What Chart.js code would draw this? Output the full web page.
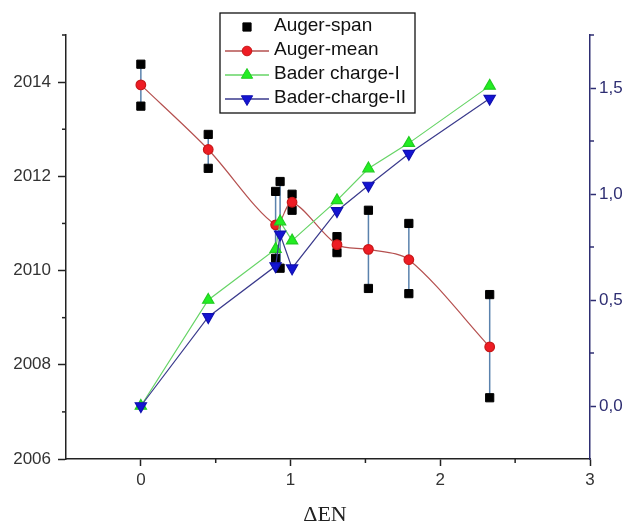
<!DOCTYPE html>
<html>
<head>
<meta charset="utf-8">
<script src="https://cdn.jsdelivr.net/npm/chart.js"></script>
<style>
  html, body { margin: 0; padding: 0; background: #fff; }
</style>
</head>
<body>
<canvas id="Chart" width="631" height="522"></canvas>
<script>
// Auger span: high / low ends of each bar (left axis)
const spanX = [0, 0.45, 0.9, 0.93, 1.01, 1.31, 1.52, 1.79, 2.33];
const spanHigh = [2014.38, 2012.89, 2011.68, 2011.89, 2011.62, 2010.72, 2011.28, 2011.0, 2009.49];
const spanLow = [2013.49, 2012.17, 2010.26, 2010.05, 2011.28, 2010.38, 2009.62, 2009.51, 2007.3];

// Auger mean (left axis)
const meanX = [0, 0.45, 0.9, 1.01, 1.31, 1.52, 1.79, 2.33];
const meanY = [2013.94, 2012.57, 2010.97, 2011.45, 2010.55, 2010.45, 2010.23, 2008.38];

// Bader charges (right axis)
const baderX = [0, 0.45, 0.9, 0.93, 1.01, 1.31, 1.52, 1.79, 2.33];
const bader1 = [0, 0.5, 0.74, 0.87, 0.78, 0.97, 1.12, 1.24, 1.51];
const bader2 = [0, 0.42, 0.66, 0.81, 0.65, 0.92, 1.04, 1.19, 1.45];

// ticks
const xTicks = [0, 1, 2, 3];
const xMinor = [0.5, 1.5, 2.5];
const yTicks = [2006, 2008, 2010, 2012, 2014];
const yMinor = [2007, 2009, 2011, 2013, 2015];
const y2Ticks = [0, 0.5, 1, 1.5];
const y2Minor = [0.25, 0.75, 1.25, 1.75];

const FONT = "'Liberation Sans', Arial, sans-serif";
const NAVY = "#2e2e72";

function pts(xs, ys) {
  return xs.map((x, i) => ({ x: x, y: ys[i] }));
}

const spanPoints = spanX.flatMap((x, i) => [
  { x: x, y: spanHigh[i] },
  { x: x, y: spanLow[i] },
]);

function marker(ctx, style, x, y, r, fill, stroke) {
  ctx.save();
  ctx.fillStyle = fill;
  ctx.strokeStyle = stroke;
  ctx.lineWidth = 1;
  ctx.beginPath();
  if (style === "rect") {
    const s = r * Math.SQRT1_2;
    ctx.rect(x - s, y - s, 2 * s, 2 * s);
  } else if (style === "circle") {
    ctx.arc(x, y, r, 0, Math.PI * 2);
  } else {
    const dir = style === "down" ? -1 : 1;
    ctx.moveTo(x, y - dir * r);
    ctx.lineTo(x + r * 0.866, y + dir * r * 0.5);
    ctx.lineTo(x - r * 0.866, y + dir * r * 0.5);
    ctx.closePath();
  }
  ctx.fill();
  ctx.stroke();
  ctx.restore();
}

const extras = {
  id: "extras",
  beforeDatasetsDraw(chart) {
    const { ctx, scales } = chart;
    ctx.save();
    ctx.strokeStyle = "#5a82ad";
    ctx.lineWidth = 1.5;
    spanX.forEach((v, i) => {
      const px = scales.x.getPixelForValue(v);
      ctx.beginPath();
      ctx.moveTo(px, scales.y.getPixelForValue(spanHigh[i]));
      ctx.lineTo(px, scales.y.getPixelForValue(spanLow[i]));
      ctx.stroke();
    });
    ctx.restore();
  },
  afterDraw(chart) {
    const { ctx, scales, chartArea } = chart;
    ctx.save();
    // minor ticks
    ctx.lineWidth = 1.5;
    ctx.strokeStyle = "#222";
    xMinor.forEach((v) => {
      const px = scales.x.getPixelForValue(v);
      ctx.beginPath();
      ctx.moveTo(px, chartArea.bottom);
      ctx.lineTo(px, chartArea.bottom + 4);
      ctx.stroke();
    });
    yMinor.forEach((v) => {
      const py = scales.y.getPixelForValue(v);
      ctx.beginPath();
      ctx.moveTo(chartArea.left, py);
      ctx.lineTo(chartArea.left - 4, py);
      ctx.stroke();
    });
    ctx.strokeStyle = NAVY;
    y2Minor.forEach((v) => {
      const py = scales.y2.getPixelForValue(v);
      ctx.beginPath();
      ctx.moveTo(chartArea.right, py);
      ctx.lineTo(chartArea.right + 4, py);
      ctx.stroke();
    });

    // x axis title
    ctx.fillStyle = "#222";
    ctx.font = "22px 'Liberation Serif', 'Times New Roman', serif";
    ctx.textAlign = "center";
    ctx.textBaseline = "alphabetic";
    ctx.fillText("\u0394EN", 325, 521);

    // legend box
    ctx.fillStyle = "#fff";
    ctx.fillRect(220, 13, 195, 100);
    ctx.strokeStyle = "#111";
    ctx.lineWidth = 1.3;
    ctx.strokeRect(220, 13, 195, 100);
    const rows = [27, 51, 75, 99];
    const styles = ["rect", "circle", "up", "down"];
    chart.data.datasets.forEach((ds, i) => {
      const yy = rows[i];
      if (ds.showLine) {
        ctx.strokeStyle = ds.borderColor;
        ctx.lineWidth = 1.3;
        ctx.beginPath();
        ctx.moveTo(225, yy);
        ctx.lineTo(269, yy);
        ctx.stroke();
      }
      marker(ctx, styles[i], 247, yy, ds.pointRadius, ds.pointBackgroundColor, ds.pointBorderColor);
      ctx.fillStyle = "#111";
      ctx.font = "19px " + FONT;
      ctx.textAlign = "left";
      ctx.textBaseline = "middle";
      ctx.fillText(ds.label, 274, yy - 1);
    });
    ctx.restore();
  },
};

new Chart(document.getElementById("Chart"), {
  type: "scatter",
  data: {
    datasets: [
      {
        label: "Auger-span",
        data: spanPoints,
        yAxisID: "y",
        showLine: false,
        pointStyle: "rect",
        pointRadius: 5.8,
        pointBackgroundColor: "#000",
        pointBorderColor: "#000",
        order: 4,
      },
      {
        label: "Auger-mean",
        data: pts(meanX, meanY),
        yAxisID: "y",
        showLine: true,
        tension: 0.3,
        borderColor: "#b5504f",
        borderWidth: 1.2,
        pointStyle: "circle",
        pointRadius: 4.8,
        pointBackgroundColor: "#ee1c24",
        pointBorderColor: "#c81818",
        order: 3,
      },
      {
        label: "Bader charge-I",
        data: pts(baderX, bader1),
        yAxisID: "y2",
        showLine: true,
        borderColor: "#66d466",
        borderWidth: 1.2,
        pointStyle: "triangle",
        pointRadius: 6.5,
        pointBackgroundColor: "#22ee22",
        pointBorderColor: "#22cc22",
        order: 2,
      },
      {
        label: "Bader-charge-II",
        data: pts(baderX, bader2),
        yAxisID: "y2",
        showLine: true,
        borderColor: "#3a3a8c",
        borderWidth: 1.2,
        pointStyle: "triangle",
        rotation: 180,
        pointRotation: 180,
        pointRadius: 6.5,
        pointBackgroundColor: "#1414d2",
        pointBorderColor: "#1010b0",
        order: 1,
      },
    ],
  },
  options: {
    responsive: false,
    animation: false,
    devicePixelRatio: 1,
    layout: { padding: { top: 35, left: 0, right: 0, bottom: 0 } },
    plugins: { legend: { display: false }, tooltip: { enabled: false } },
    scales: {
      x: {
        type: "linear",
        min: -0.5,
        max: 3,
        afterBuildTicks: (s) => { s.ticks = xTicks.map((v) => ({ value: v })); },
        afterFit: (s) => { s.height = 63; },
        ticks: { font: { size: 17, family: FONT }, color: "#333", padding: 4 },
        grid: { drawOnChartArea: false, tickLength: 7, tickColor: "#222", tickWidth: 1.5 },
        border: { color: "#222", width: 1.5 },
      },
      y: {
        type: "linear",
        position: "left",
        min: 2006,
        max: 2015,
        afterBuildTicks: (s) => { s.ticks = yTicks.map((v) => ({ value: v })); },
        afterFit: (s) => { s.width = 66; },
        ticks: { font: { size: 17, family: FONT }, color: "#333", padding: 7, callback: (v) => String(v) },
        grid: { drawOnChartArea: false, tickLength: 8, tickColor: "#222", tickWidth: 1.5 },
        border: { color: "#222", width: 1.5 },
      },
      y2: {
        type: "linear",
        position: "right",
        min: -0.25,
        max: 1.75,
        afterBuildTicks: (s) => { s.ticks = y2Ticks.map((v) => ({ value: v })); },
        afterFit: (s) => { s.width = 41; },
        ticks: {
          font: { size: 17, family: FONT },
          color: NAVY,
          padding: 3,
          callback: (v) => v.toFixed(1).replace(".", ","),
        },
        grid: { drawOnChartArea: false, tickLength: 6, tickColor: NAVY, tickWidth: 1.5 },
        border: { color: NAVY, width: 1.5 },
      },
    },
  },
  plugins: [extras],
});
</script>
</body>
</html>
